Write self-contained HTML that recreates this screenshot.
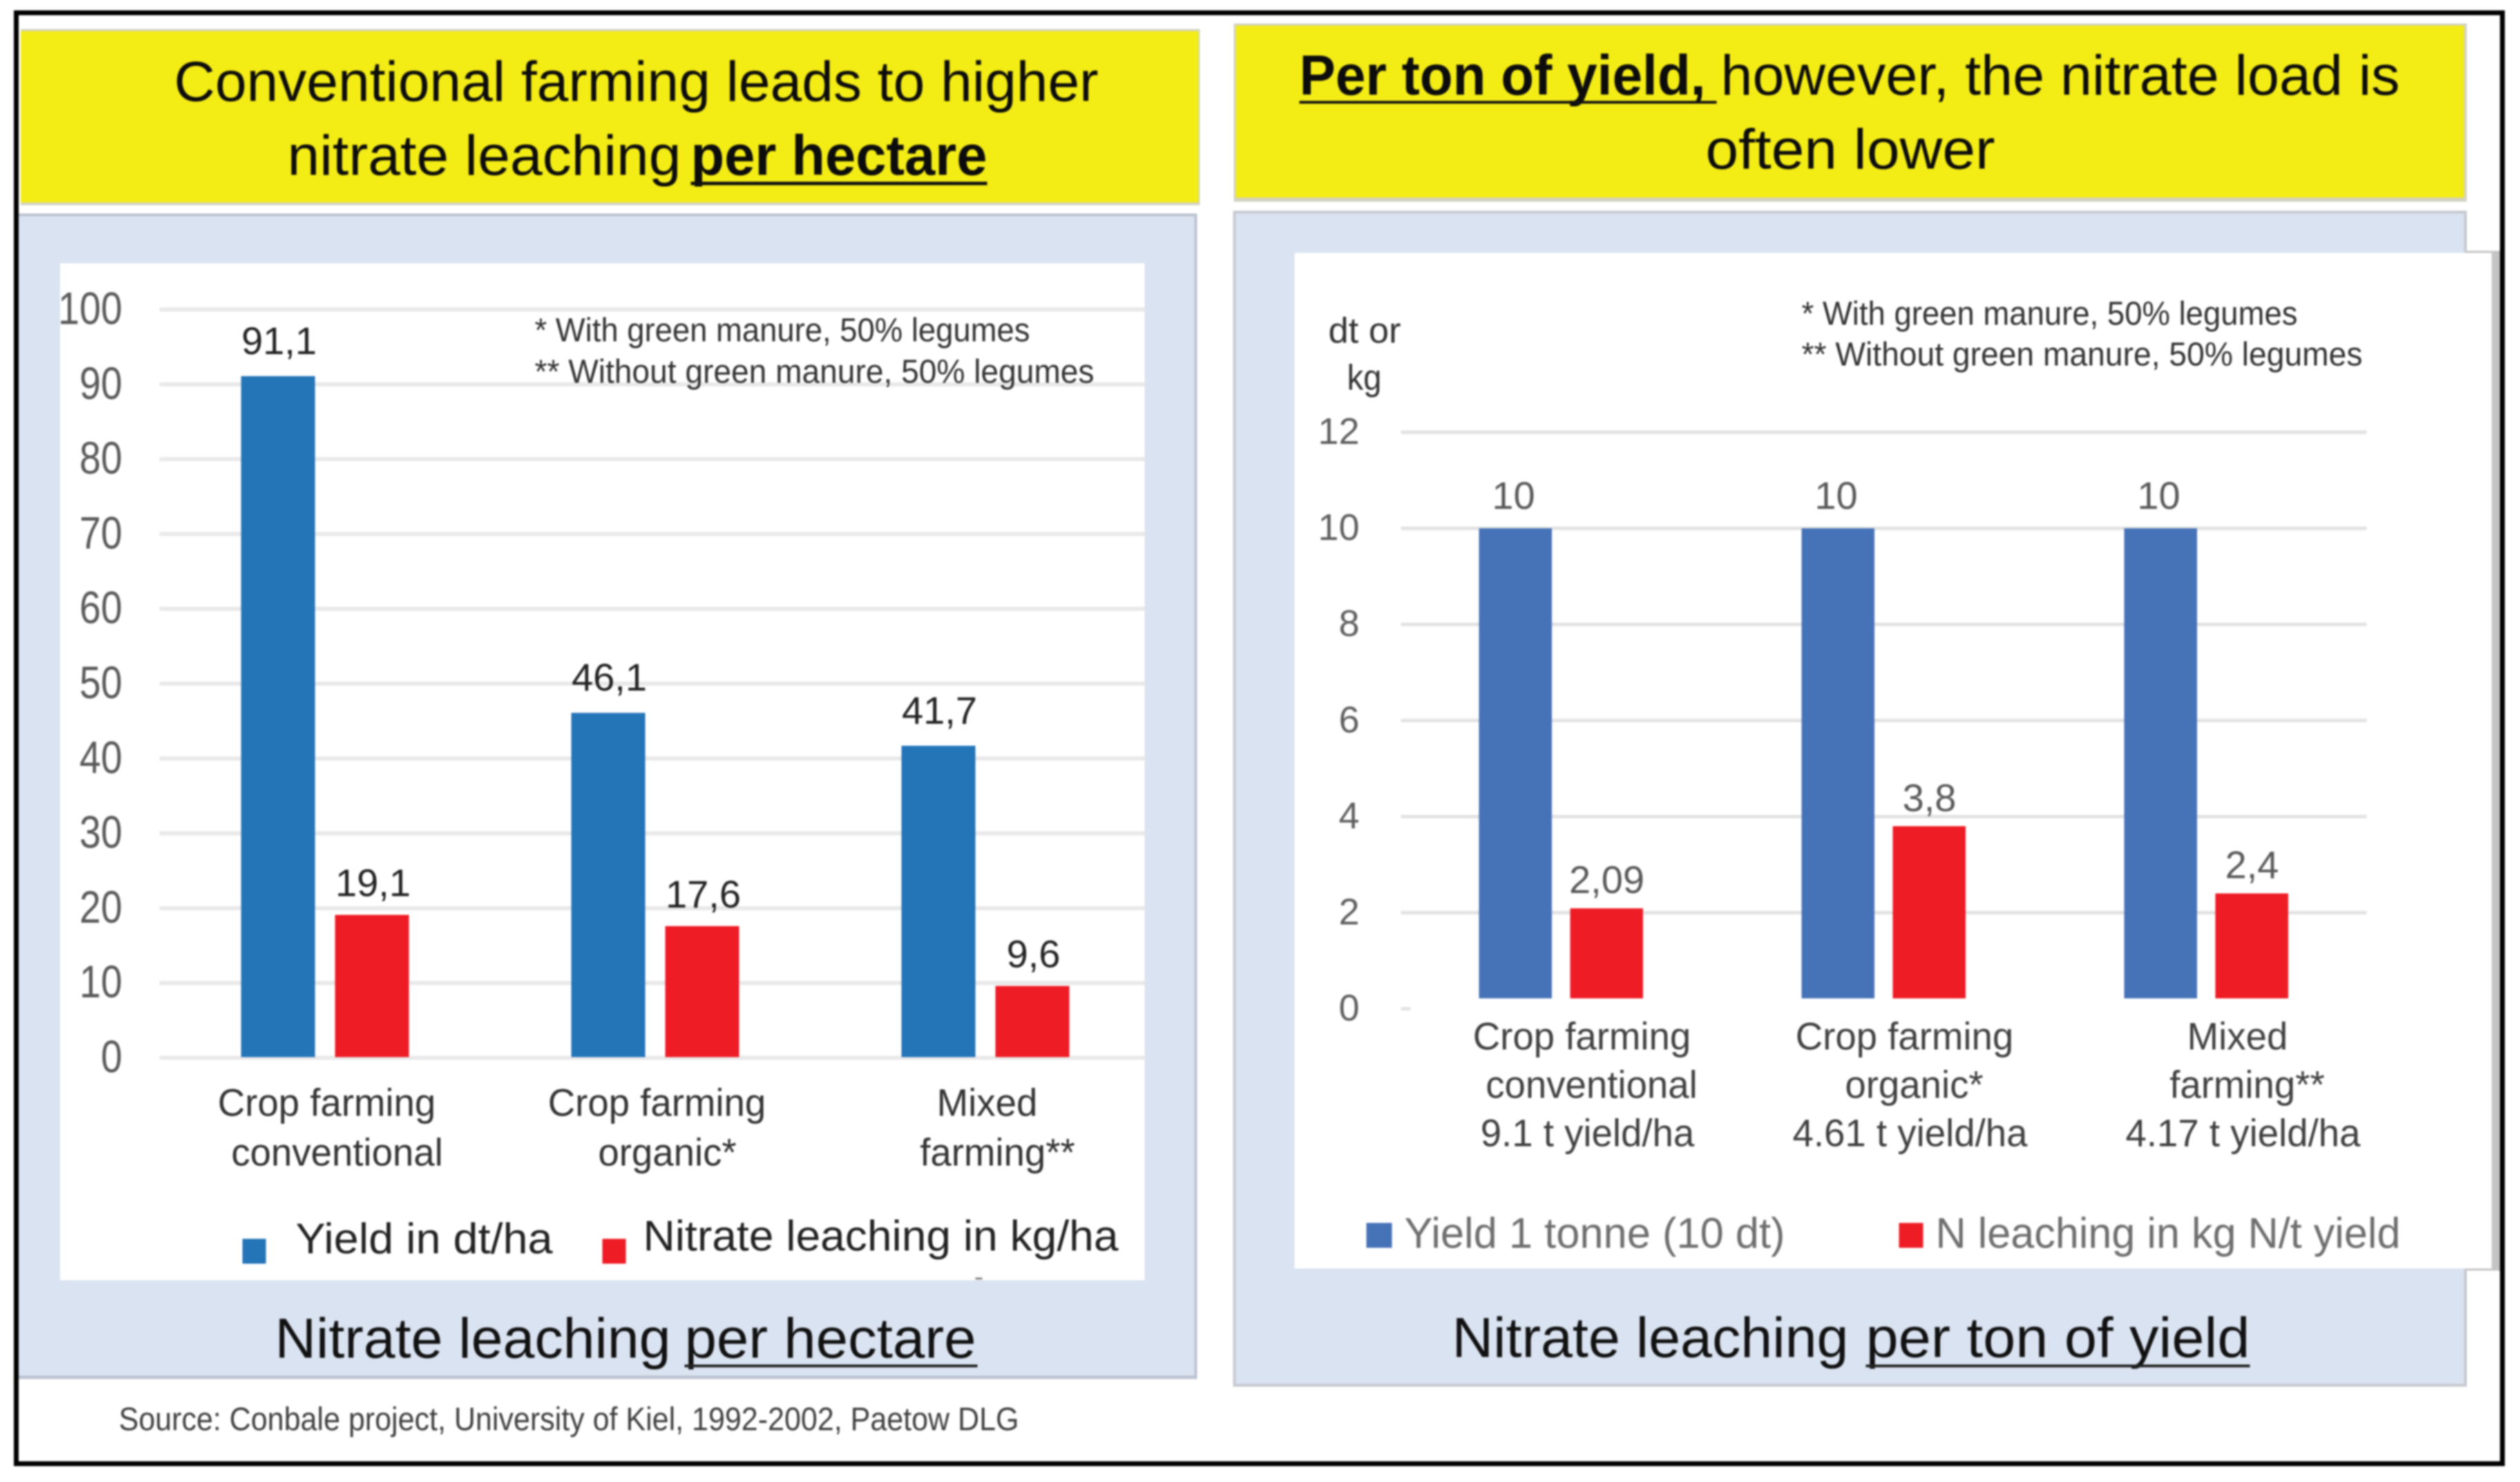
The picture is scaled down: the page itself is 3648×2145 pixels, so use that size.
<!DOCTYPE html>
<html lang="en">
<head>
<meta charset="utf-8">
<title>Nitrate leaching per hectare and per ton of yield</title>
<style>
html,body{margin:0;padding:0;background:#fff;}
svg{display:block;filter:blur(1.2px);}
text{font-family:"Liberation Sans",sans-serif;}
</style>
</head>
<body>
<svg id="root" xmlns="http://www.w3.org/2000/svg" width="3648" height="2145" viewBox="0 0 3648 2145">
  <rect x="0" y="0" width="3648" height="2145" fill="#ffffff"/>

  <!-- left panel -->
  <rect x="30" y="42" width="1707" height="255" fill="#d2d2c4"/>
  <rect x="30" y="45" width="1705" height="248" fill="#f4ec15"/>
  <text x="252" y="146" font-size="82" fill="#0c0c0c" textLength="1338" lengthAdjust="spacingAndGlyphs">Conventional farming leads to higher</text>
  <text x="416" y="253" font-size="82" fill="#0c0c0c" textLength="570" lengthAdjust="spacingAndGlyphs">nitrate leaching</text>
  <text x="1000" y="253" font-size="82" font-weight="bold" fill="#0c0c0c" textLength="429" lengthAdjust="spacingAndGlyphs">per hectare</text>
  <rect x="1000" y="263" width="429" height="5" fill="#111"/>

  <rect x="27" y="309" width="1706" height="1687" fill="#bcc3d0"/>
  <rect x="27" y="313" width="1702" height="1678" fill="#dae3f1"/>
  <rect x="87" y="381" width="1570" height="1472" fill="#ffffff"/>
  <g id="left-chart"></g>

  <text x="774" y="494" font-size="48" fill="#333" textLength="717" lengthAdjust="spacingAndGlyphs">* With green manure, 50% legumes</text>
  <text x="774" y="554" font-size="48" fill="#333" textLength="810" lengthAdjust="spacingAndGlyphs">** Without green manure, 50% legumes</text>

  <rect x="351" y="1793" width="34" height="36" fill="#2474b8"/>
  <text x="428" y="1814" font-size="62" fill="#222" textLength="372" lengthAdjust="spacingAndGlyphs">Yield in dt/ha</text>
  <rect x="872" y="1793" width="34" height="36" fill="#ee1c25"/>
  <text x="931" y="1810" font-size="62" fill="#222" textLength="688" lengthAdjust="spacingAndGlyphs">Nitrate leaching in kg/ha</text>
  <rect x="1412" y="1849" width="10" height="3" fill="#888"/>

  <text x="398" y="1965" font-size="82" fill="#111" textLength="573" lengthAdjust="spacingAndGlyphs">Nitrate leaching</text>
  <text x="991" y="1965" font-size="82" fill="#111" textLength="422" lengthAdjust="spacingAndGlyphs">per hectare</text>
  <rect x="991" y="1975" width="424" height="4" fill="#222"/>

  <text x="172" y="2070" font-size="47" fill="#404040" textLength="1303" lengthAdjust="spacingAndGlyphs">Source: Conbale project, University of Kiel, 1992-2002, Paetow DLG</text>

  <!-- right panel -->
  <rect x="1786" y="34" width="1785" height="258" fill="#d2d2c4"/>
  <rect x="1789" y="37" width="1778" height="249" fill="#f4ec15"/>
  <text x="1881" y="137" font-size="82" font-weight="bold" fill="#0c0c0c" textLength="588" lengthAdjust="spacingAndGlyphs">Per ton of yield,</text>
  <rect x="1881" y="146" width="604" height="4" fill="#111"/>
  <text x="2491" y="137" font-size="82" fill="#0c0c0c" textLength="983" lengthAdjust="spacingAndGlyphs">however, the nitrate load is</text>
  <text x="2469" y="244" font-size="82" fill="#0c0c0c" textLength="419" lengthAdjust="spacingAndGlyphs">often lower</text>

  <rect x="1785" y="305" width="1786" height="1702" fill="#c6c9cf"/>
  <rect x="1789" y="309" width="1778" height="1694" fill="#dae3f1"/>
  <rect x="3571" y="363" width="48" height="1476" fill="#c4c4c4"/>
  <rect x="1874" y="366" width="1733" height="1470" fill="#ffffff"/>
  <g id="right-chart"></g>

  <text x="2608" y="470" font-size="48" fill="#333" textLength="718" lengthAdjust="spacingAndGlyphs">* With green manure, 50% legumes</text>
  <text x="2608" y="529" font-size="48" fill="#333" textLength="812" lengthAdjust="spacingAndGlyphs">** Without green manure, 50% legumes</text>
  <text x="1923" y="496" font-size="52" fill="#333" textLength="105" lengthAdjust="spacingAndGlyphs">dt or</text>
  <text x="1950" y="564" font-size="52" fill="#333" textLength="50" lengthAdjust="spacingAndGlyphs">kg</text>

  <rect x="1978" y="1770" width="37" height="36" fill="#4672b7"/>
  <text x="2033" y="1806" font-size="62" fill="#6e6e6e" textLength="551" lengthAdjust="spacingAndGlyphs">Yield 1 tonne (10 dt)</text>
  <rect x="2749" y="1770" width="35" height="36" fill="#ee1c25"/>
  <text x="2802" y="1806" font-size="62" fill="#6e6e6e" textLength="673" lengthAdjust="spacingAndGlyphs">N leaching in kg N/t yield</text>

  <text x="2102" y="1964" font-size="82" fill="#111" textLength="574" lengthAdjust="spacingAndGlyphs">Nitrate leaching</text>
  <text x="2701" y="1964" font-size="82" fill="#111" textLength="556" lengthAdjust="spacingAndGlyphs">per ton of yield</text>
  <rect x="2701" y="1975" width="556" height="4" fill="#222"/>

  <rect x="23.5" y="18.5" width="3599" height="2100" fill="none" stroke="#000" stroke-width="7"/>
</svg>
<script>
const leftCategories = [["Crop farming", "conventional"], ["Crop farming", "organic*"], ["Mixed", "farming**"]];
const leftTicks = [0, 10, 20, 30, 40, 50, 60, 70, 80, 90, 100];
const leftYield = [91.1, 46.1, 41.7];
const leftNitrate = [19.1, 17.6, 9.6];

const rightCategories = [["Crop farming", "conventional", "9.1 t yield/ha"], ["Crop farming", "organic*", "4.61 t yield/ha"], ["Mixed", "farming**", "4.17 t yield/ha"]];
const rightTicks = [0, 2, 4, 6, 8, 10, 12];
const rightYield = [10, 10, 10];
const rightNitrate = [2.09, 3.8, 2.4];

const SVG_NS = "http://www.w3.org/2000/svg";

function addRect(parent, x, y, w, h, fill) {
  const el = document.createElementNS(SVG_NS, "rect");
  el.setAttribute("x", x);
  el.setAttribute("y", y);
  el.setAttribute("width", w);
  el.setAttribute("height", Math.max(0, h));
  el.setAttribute("fill", fill);
  parent.appendChild(el);
  return el;
}

function addText(parent, str, x, y, size, fill, anchor) {
  const el = document.createElementNS(SVG_NS, "text");
  el.textContent = str;
  el.setAttribute("x", x);
  el.setAttribute("y", y);
  el.setAttribute("font-size", size);
  el.setAttribute("fill", fill);
  el.setAttribute("text-anchor", anchor);
  parent.appendChild(el);
  return el;
}

function stretchCategory(el) {
  const natural = el.getComputedTextLength();
  el.setAttribute("textLength", natural * 0.975);
  el.setAttribute("lengthAdjust", "spacingAndGlyphs");
}

function fmt(v) {
  return String(v).replace(".", ",");
}

/* left chart */
(function () {
  const g = document.getElementById("left-chart");
  const y = v => 1531 - (v - 0) * (1531 - 448) / 100;
  const bandX = i => 232 + 478 * i;
  const barW = 107;
  const lineShift = [2, 17];

  leftTicks.forEach(t => {
    const line = addRect(g, 231, y(t) - 3, 1426, 6, "#e9e9e9");
    
    
    const label = addText(g, String(t), 177, y(t) + 21, 66, "#5a5a5a", "end");
    label.setAttribute("textLength", String(t).length * 31);
    label.setAttribute("lengthAdjust", "spacingAndGlyphs");
    
    
  });

  leftCategories.forEach((lines, i) => {
    const center = bandX(i) + 239;
    const by = y(leftYield[i]);
    const a = addRect(g, center - 122, by, barW, 1530 - by, "#2474b8");
    
    
    const va = addText(g, fmt(leftYield[i]), center - 67, by - 32, 56, "#222", "middle");
    
    

    const ry = y(leftNitrate[i]);
    const b = addRect(g, center + 14, ry, barW, 1530 - ry, "#ee1c25");
    
    
    const vb = addText(g, fmt(leftNitrate[i]), center + 69, ry - 27, 56, "#222", "middle");
    
    

    lines.forEach((s, k) => {
      const c = addText(g, s, center + lineShift[k], 1615 + k * 72, 56, "#333", "middle");
      stretchCategory(c);
      
      
    });
  });
})();

/* right chart */
(function () {
  const g = document.getElementById("right-chart");
  const y = v => 1460 - v * (1460 - 625.6) / 12;
  const bandX = i => 2026.5 + 467 * i;
  const barW = 105.5;
  const barFloor = 1445;
  const lineShift = [30, 44, 38];
  const lastCategoryShift = 15;

  rightTicks.forEach(t => {
    const w = t === 0 ? 14 : 1398;
    const line = addRect(g, 2028, y(t) - 2.5, w, 5, "#e2e2e2");
    
    
    const label = addText(g, String(t), 1968, y(t) + 17, 54, "#5f5f5f", "end");
    
    
  });

  rightCategories.forEach((lines, i) => {
    const center = bandX(i) + 233.5;
    const by = y(rightYield[i]);
    const a = addRect(g, center - 119, by, barW, barFloor - by, "#4672b7");
    
    
    const va = addText(g, fmt(rightYield[i]), center - 69, by - 28, 56, "#595959", "middle");
    
    

    const ry = y(rightNitrate[i]);
    const b = addRect(g, center + 13, ry, barW, barFloor - ry, "#ee1c25");
    
    
    const vb = addText(g, fmt(rightNitrate[i]), center + 66, ry - 22, 56, "#595959", "middle");
    
    

    lines.forEach((s, k) => {
      const shift = lineShift[k] + (i === rightCategories.length - 1 ? lastCategoryShift : 0);
      const c = addText(g, s, center + shift, 1519 + k * 70, 56, "#404040", "middle");
      stretchCategory(c);
      
      
    });
  });
})();
</script>
</body>
</html>
